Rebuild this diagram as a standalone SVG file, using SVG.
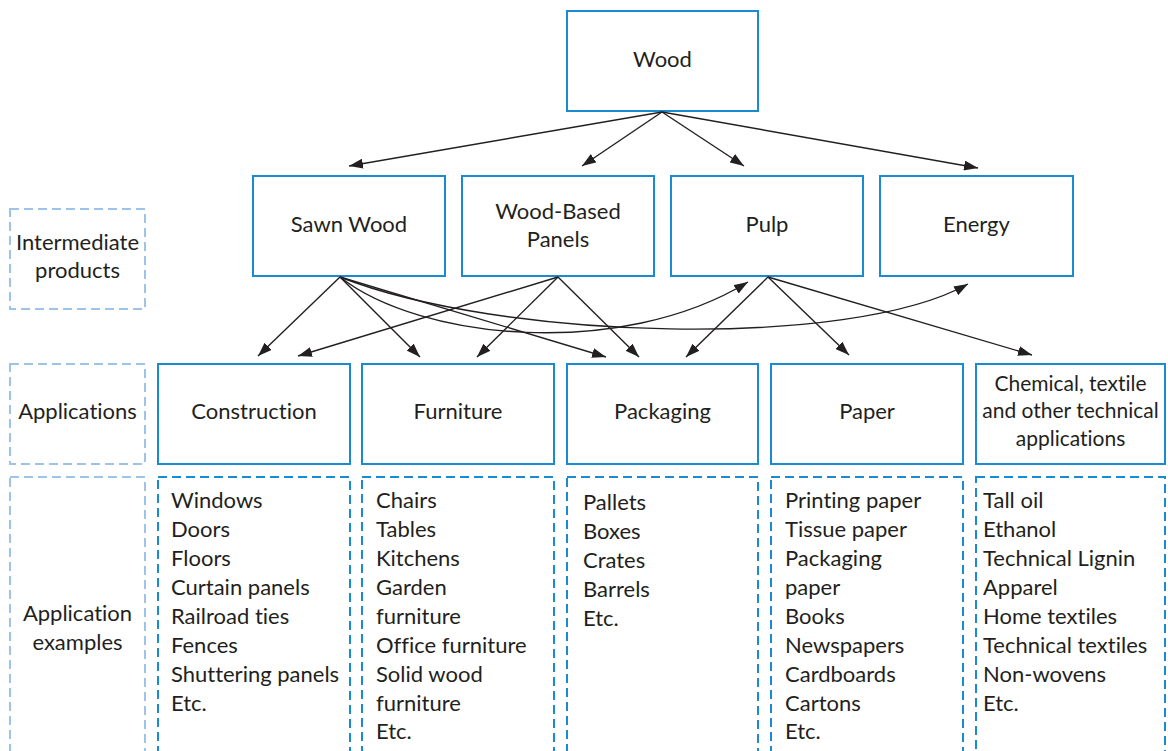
<svg xmlns="http://www.w3.org/2000/svg" width="1168" height="751" viewBox="0 0 1168 751">
<defs>
<marker id="ah" viewBox="0 0 14 10" refX="14" refY="5" markerWidth="14" markerHeight="10" markerUnits="userSpaceOnUse" orient="auto">
<path d="M0,0 L14,5 L0,10 Z" fill="#231f20"/>
</marker>
<style>
.box{fill:#fff;stroke:#1a8bd0;stroke-width:2}
.dbox{fill:#fff;stroke:#1a8bd0;stroke-width:2;stroke-dasharray:9,5}
.lbox{fill:#fff;stroke:#9dc3e8;stroke-width:2;stroke-dasharray:9,5}
.t{font-family:Lato,"Open Sans",sans-serif;font-size:22px;fill:#231f20;font-variant-ligatures:none}
.s{font-size:21px}
.c{text-anchor:middle}
.e{fill:none;stroke:#231f20;stroke-width:1.4;marker-end:url(#ah)}
</style>
</defs>
<rect width="1168" height="751" fill="#fff"/>

<g id="label-intermediate"><rect class="lbox" x="10" y="209" width="135" height="100"/><text class="t c" x="77.5" y="250">Intermediate</text><text class="t c" x="77.5" y="278">products</text></g>
<g id="label-applications"><rect class="lbox" x="10" y="364" width="135" height="100"/><text class="t c" x="77.5" y="419">Applications</text></g>
<g id="label-examples"><rect class="lbox" x="10" y="477" width="135" height="290"/><text class="t c" x="77.5" y="621">Application</text><text class="t c" x="77.5" y="650">examples</text></g>

<g id="wood"><rect class="box" x="567" y="11" width="191" height="100"/><text class="t c" x="662.5" y="67">Wood</text></g>

<g id="sawn-wood"><rect class="box" x="253" y="176" width="192" height="100"/><text class="t c" x="349" y="232">Sawn Wood</text></g>
<g id="wood-based-panels"><rect class="box" x="462" y="176" width="192" height="100"/><text class="t c" x="558" y="219">Wood-Based</text><text class="t c" x="558" y="247">Panels</text></g>
<g id="pulp"><rect class="box" x="671" y="176" width="192" height="100"/><text class="t c" x="767" y="232">Pulp</text></g>
<g id="energy"><rect class="box" x="880" y="176" width="193" height="100"/><text class="t c" x="976.5" y="232">Energy</text></g>

<g id="construction"><rect class="box" x="158" y="364" width="192" height="100"/><text class="t c" x="254" y="419">Construction</text></g>
<g id="furniture"><rect class="box" x="362" y="364" width="192" height="100"/><text class="t c" x="458" y="419">Furniture</text></g>
<g id="packaging"><rect class="box" x="567" y="364" width="191" height="100"/><text class="t c" x="662.5" y="419">Packaging</text></g>
<g id="paper"><rect class="box" x="771" y="364" width="192" height="100"/><text class="t c" x="867" y="419">Paper</text></g>
<g id="chemical"><rect class="box" x="976" y="364" width="189" height="100"/><text class="t s c" x="1070.5" y="391">Chemical, textile</text><text class="t s c" x="1070.5" y="418">and other technical</text><text class="t s c" x="1070.5" y="446">applications</text></g>

<g id="ex-construction"><rect class="dbox" x="158" y="477" width="192" height="290"/>
<text class="t" x="171" y="508">Windows</text><text class="t" x="171" y="537">Doors</text><text class="t" x="171" y="566">Floors</text><text class="t" x="171" y="595">Curtain panels</text><text class="t" x="171" y="624">Railroad ties</text><text class="t" x="171" y="653">Fences</text><text class="t" x="171" y="682">Shuttering panels</text><text class="t" x="171" y="711">Etc.</text></g>
<g id="ex-furniture"><rect class="dbox" x="362" y="477" width="192" height="290"/>
<text class="t" x="376" y="508">Chairs</text><text class="t" x="376" y="537">Tables</text><text class="t" x="376" y="566">Kitchens</text><text class="t" x="376" y="595">Garden</text><text class="t" x="376" y="624">furniture</text><text class="t" x="376" y="653">Office furniture</text><text class="t" x="376" y="682">Solid wood</text><text class="t" x="376" y="711">furniture</text><text class="t" x="376" y="739">Etc.</text></g>
<g id="ex-packaging"><rect class="dbox" x="567" y="477" width="191" height="290"/>
<text class="t" x="583" y="510">Pallets</text><text class="t" x="583" y="539">Boxes</text><text class="t" x="583" y="568">Crates</text><text class="t" x="583" y="597">Barrels</text><text class="t" x="583" y="626">Etc.</text></g>
<g id="ex-paper"><rect class="dbox" x="771" y="477" width="192" height="290"/>
<text class="t" x="785" y="508">Printing paper</text><text class="t" x="785" y="537">Tissue paper</text><text class="t" x="785" y="566">Packaging</text><text class="t" x="785" y="595">paper</text><text class="t" x="785" y="624">Books</text><text class="t" x="785" y="653">Newspapers</text><text class="t" x="785" y="682">Cardboards</text><text class="t" x="785" y="711">Cartons</text><text class="t" x="785" y="739">Etc.</text></g>
<g id="ex-chemical"><rect class="dbox" x="976" y="477" width="189" height="290"/>
<text class="t" x="983" y="508">Tall oil</text><text class="t" x="983" y="537">Ethanol</text><text class="t" x="983" y="566">Technical Lignin</text><text class="t" x="983" y="595">Apparel</text><text class="t" x="983" y="624">Home textiles</text><text class="t" x="983" y="653">Technical textiles</text><text class="t" x="983" y="682">Non-wovens</text><text class="t" x="983" y="711">Etc.</text></g>

<g id="connectors">
<line class="e" x1="662" y1="112" x2="349" y2="166"/>
<line class="e" x1="662" y1="112" x2="582" y2="166"/>
<line class="e" x1="662" y1="112" x2="744" y2="166"/>
<line class="e" x1="662" y1="112" x2="978" y2="168"/>
<line class="e" x1="340" y1="277" x2="258" y2="356"/>
<line class="e" x1="340" y1="277" x2="420" y2="357"/>
<line class="e" x1="340" y1="277" x2="606" y2="357"/>
<path class="e" d="M340,277 C420,340 620,360 748,282"/>
<path class="e" d="M340,277 C500,340 850,350 968,284"/>
<line class="e" x1="558" y1="277" x2="298" y2="356"/>
<line class="e" x1="558" y1="277" x2="477" y2="357"/>
<line class="e" x1="558" y1="277" x2="639" y2="357"/>
<line class="e" x1="768" y1="277" x2="686" y2="357"/>
<line class="e" x1="768" y1="277" x2="849" y2="355"/>
<line class="e" x1="768" y1="277" x2="1032" y2="355"/>
</g>
</svg>
